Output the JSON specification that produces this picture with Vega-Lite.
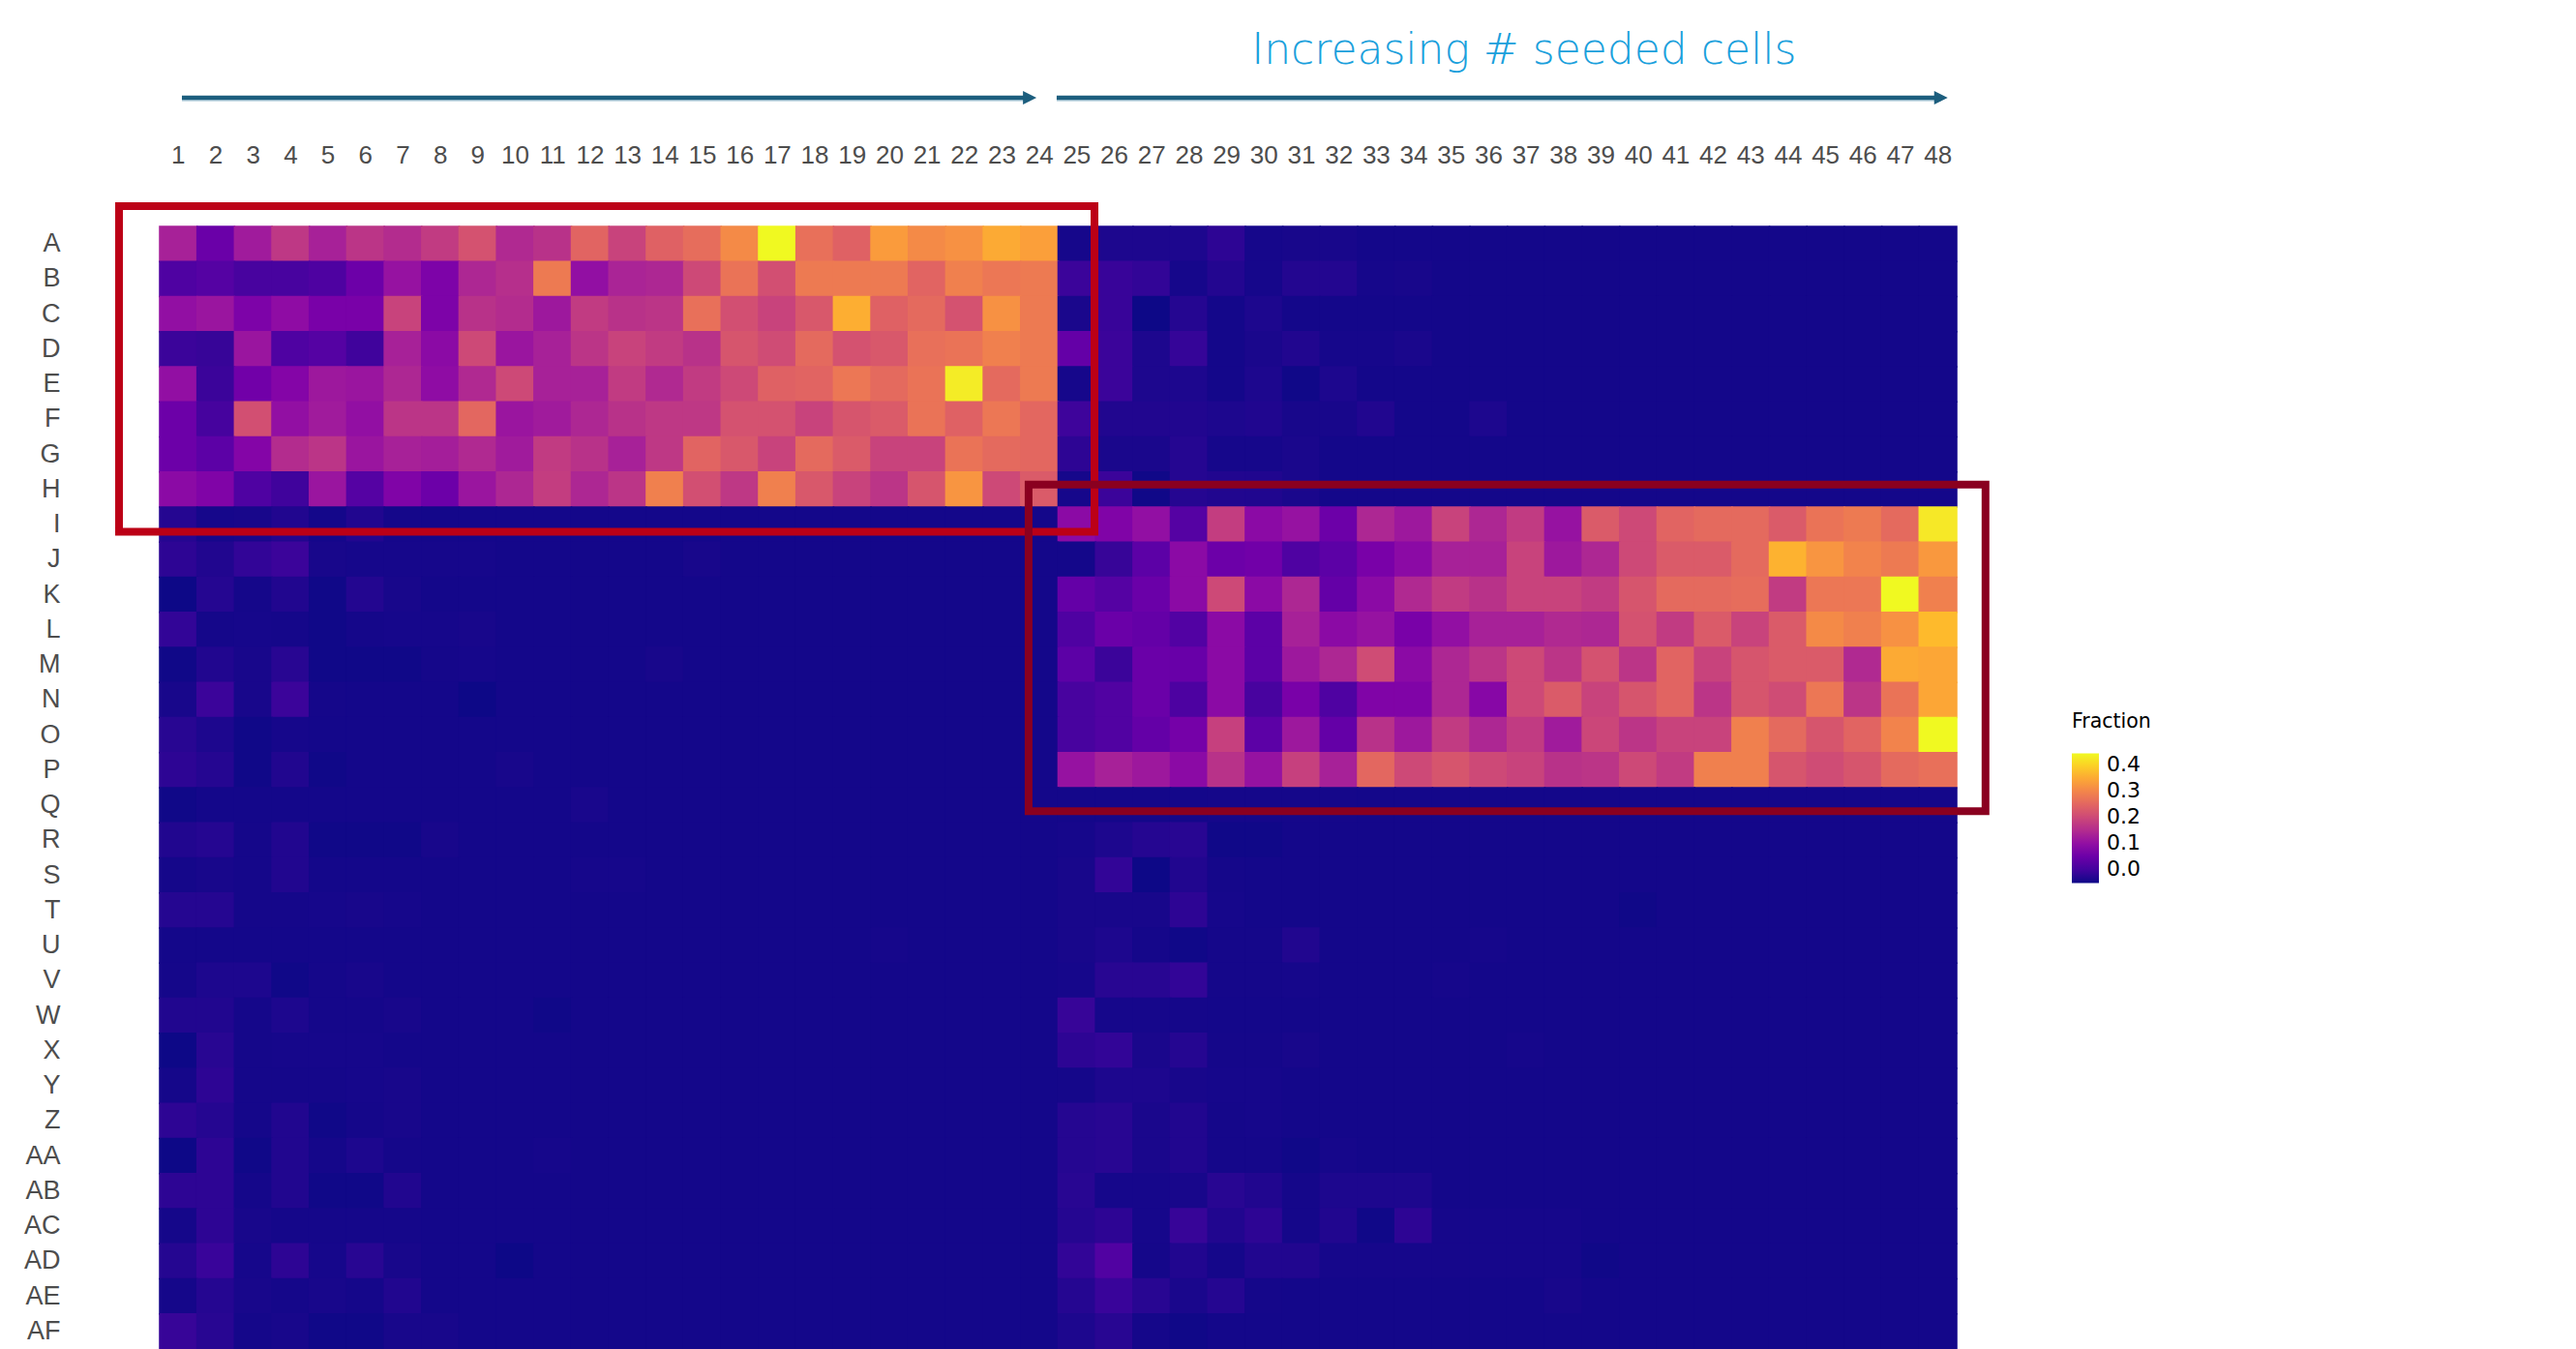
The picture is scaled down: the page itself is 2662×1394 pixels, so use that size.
{
"$schema":"https://vega.github.io/schema/vega-lite/v6.json",
"width":1857,"height":1160,
"autosize":{"type":"none"},
"padding":{"left":165,"top":234,"right":640,"bottom":0},
"background":"white",
"config":{"view":{"stroke":null}},
"resolve":{"scale":{"x":"independent","y":"independent"}},
"layer":[
{"data":{"values":[
{"r":"A","c":1,"v":0.13},{"r":"A","c":2,"v":0.047},{"r":"A","c":3,"v":0.12},{"r":"A","c":4,"v":0.17},{"r":"A","c":5,"v":0.13},{"r":"A","c":6,"v":0.165},{"r":"A","c":7,"v":0.15},{"r":"A","c":8,"v":0.175},{"r":"A","c":9,"v":0.215},{"r":"A","c":10,"v":0.145},{"r":"A","c":11,"v":0.16},{"r":"A","c":12,"v":0.245},{"r":"A","c":13,"v":0.19},{"r":"A","c":14,"v":0.24},{"r":"A","c":15,"v":0.26},{"r":"A","c":16,"v":0.305},{"r":"A","c":17,"v":0.444},{"r":"A","c":18,"v":0.265},{"r":"A","c":19,"v":0.24},{"r":"A","c":20,"v":0.33},{"r":"A","c":21,"v":0.305},{"r":"A","c":22,"v":0.315},{"r":"A","c":23,"v":0.35},{"r":"A","c":24,"v":0.335},{"r":"A","c":25,"v":-0.045},{"r":"A","c":26,"v":-0.04},{"r":"A","c":27,"v":-0.04},{"r":"A","c":28,"v":-0.04},{"r":"A","c":29,"v":-0.025},{"r":"A","c":30,"v":-0.045},{"r":"A","c":31,"v":-0.044},{"r":"A","c":32,"v":-0.044},{"r":"A","c":33,"v":-0.047},{"r":"A","c":34,"v":-0.047},{"r":"A","c":35,"v":-0.047},{"r":"A","c":36,"v":-0.047},{"r":"A","c":37,"v":-0.047},{"r":"A","c":38,"v":-0.047},{"r":"A","c":39,"v":-0.047},{"r":"A","c":40,"v":-0.047},{"r":"A","c":41,"v":-0.047},{"r":"A","c":42,"v":-0.047},{"r":"A","c":43,"v":-0.047},{"r":"A","c":44,"v":-0.047},{"r":"A","c":45,"v":-0.047},{"r":"A","c":46,"v":-0.047},{"r":"A","c":47,"v":-0.047},{"r":"A","c":48,"v":-0.047},
{"r":"B","c":1,"v":0.013},{"r":"B","c":2,"v":0.02},{"r":"B","c":3,"v":0.005},{"r":"B","c":4,"v":0.005},{"r":"B","c":5,"v":0.012},{"r":"B","c":6,"v":0.05},{"r":"B","c":7,"v":0.105},{"r":"B","c":8,"v":0.07},{"r":"B","c":9,"v":0.14},{"r":"B","c":10,"v":0.155},{"r":"B","c":11,"v":0.28},{"r":"B","c":12,"v":0.1},{"r":"B","c":13,"v":0.135},{"r":"B","c":14,"v":0.14},{"r":"B","c":15,"v":0.2},{"r":"B","c":16,"v":0.27},{"r":"B","c":17,"v":0.21},{"r":"B","c":18,"v":0.28},{"r":"B","c":19,"v":0.28},{"r":"B","c":20,"v":0.28},{"r":"B","c":21,"v":0.245},{"r":"B","c":22,"v":0.29},{"r":"B","c":23,"v":0.275},{"r":"B","c":24,"v":0.28},{"r":"B","c":25,"v":-0.01},{"r":"B","c":26,"v":-0.013},{"r":"B","c":27,"v":-0.02},{"r":"B","c":28,"v":-0.045},{"r":"B","c":29,"v":-0.035},{"r":"B","c":30,"v":-0.045},{"r":"B","c":31,"v":-0.035},{"r":"B","c":32,"v":-0.035},{"r":"B","c":33,"v":-0.045},{"r":"B","c":34,"v":-0.044},{"r":"B","c":35,"v":-0.047},{"r":"B","c":36,"v":-0.047},{"r":"B","c":37,"v":-0.047},{"r":"B","c":38,"v":-0.047},{"r":"B","c":39,"v":-0.047},{"r":"B","c":40,"v":-0.047},{"r":"B","c":41,"v":-0.047},{"r":"B","c":42,"v":-0.047},{"r":"B","c":43,"v":-0.047},{"r":"B","c":44,"v":-0.047},{"r":"B","c":45,"v":-0.047},{"r":"B","c":46,"v":-0.047},{"r":"B","c":47,"v":-0.047},{"r":"B","c":48,"v":-0.047},
{"r":"C","c":1,"v":0.1},{"r":"C","c":2,"v":0.11},{"r":"C","c":3,"v":0.07},{"r":"C","c":4,"v":0.095},{"r":"C","c":5,"v":0.065},{"r":"C","c":6,"v":0.065},{"r":"C","c":7,"v":0.19},{"r":"C","c":8,"v":0.07},{"r":"C","c":9,"v":0.16},{"r":"C","c":10,"v":0.15},{"r":"C","c":11,"v":0.115},{"r":"C","c":12,"v":0.175},{"r":"C","c":13,"v":0.16},{"r":"C","c":14,"v":0.165},{"r":"C","c":15,"v":0.265},{"r":"C","c":16,"v":0.21},{"r":"C","c":17,"v":0.19},{"r":"C","c":18,"v":0.225},{"r":"C","c":19,"v":0.355},{"r":"C","c":20,"v":0.24},{"r":"C","c":21,"v":0.255},{"r":"C","c":22,"v":0.215},{"r":"C","c":23,"v":0.315},{"r":"C","c":24,"v":0.28},{"r":"C","c":25,"v":-0.042},{"r":"C","c":26,"v":-0.013},{"r":"C","c":27,"v":-0.052},{"r":"C","c":28,"v":-0.033},{"r":"C","c":29,"v":-0.047},{"r":"C","c":30,"v":-0.04},{"r":"C","c":31,"v":-0.047},{"r":"C","c":32,"v":-0.047},{"r":"C","c":33,"v":-0.047},{"r":"C","c":34,"v":-0.047},{"r":"C","c":35,"v":-0.047},{"r":"C","c":36,"v":-0.047},{"r":"C","c":37,"v":-0.047},{"r":"C","c":38,"v":-0.047},{"r":"C","c":39,"v":-0.047},{"r":"C","c":40,"v":-0.047},{"r":"C","c":41,"v":-0.047},{"r":"C","c":42,"v":-0.047},{"r":"C","c":43,"v":-0.047},{"r":"C","c":44,"v":-0.047},{"r":"C","c":45,"v":-0.047},{"r":"C","c":46,"v":-0.047},{"r":"C","c":47,"v":-0.047},{"r":"C","c":48,"v":-0.047},
{"r":"D","c":1,"v":-0.01},{"r":"D","c":2,"v":-0.015},{"r":"D","c":3,"v":0.11},{"r":"D","c":4,"v":0.013},{"r":"D","c":5,"v":0.02},{"r":"D","c":6,"v":-0.005},{"r":"D","c":7,"v":0.13},{"r":"D","c":8,"v":0.09},{"r":"D","c":9,"v":0.2},{"r":"D","c":10,"v":0.11},{"r":"D","c":11,"v":0.13},{"r":"D","c":12,"v":0.165},{"r":"D","c":13,"v":0.19},{"r":"D","c":14,"v":0.175},{"r":"D","c":15,"v":0.16},{"r":"D","c":16,"v":0.22},{"r":"D","c":17,"v":0.205},{"r":"D","c":18,"v":0.255},{"r":"D","c":19,"v":0.215},{"r":"D","c":20,"v":0.225},{"r":"D","c":21,"v":0.265},{"r":"D","c":22,"v":0.27},{"r":"D","c":23,"v":0.29},{"r":"D","c":24,"v":0.28},{"r":"D","c":25,"v":0.04},{"r":"D","c":26,"v":-0.01},{"r":"D","c":27,"v":-0.04},{"r":"D","c":28,"v":-0.017},{"r":"D","c":29,"v":-0.047},{"r":"D","c":30,"v":-0.042},{"r":"D","c":31,"v":-0.037},{"r":"D","c":32,"v":-0.045},{"r":"D","c":33,"v":-0.045},{"r":"D","c":34,"v":-0.042},{"r":"D","c":35,"v":-0.047},{"r":"D","c":36,"v":-0.047},{"r":"D","c":37,"v":-0.047},{"r":"D","c":38,"v":-0.047},{"r":"D","c":39,"v":-0.047},{"r":"D","c":40,"v":-0.047},{"r":"D","c":41,"v":-0.047},{"r":"D","c":42,"v":-0.047},{"r":"D","c":43,"v":-0.047},{"r":"D","c":44,"v":-0.047},{"r":"D","c":45,"v":-0.047},{"r":"D","c":46,"v":-0.047},{"r":"D","c":47,"v":-0.047},{"r":"D","c":48,"v":-0.047},
{"r":"E","c":1,"v":0.1},{"r":"E","c":2,"v":-0.01},{"r":"E","c":3,"v":0.055},{"r":"E","c":4,"v":0.08},{"r":"E","c":5,"v":0.115},{"r":"E","c":6,"v":0.11},{"r":"E","c":7,"v":0.14},{"r":"E","c":8,"v":0.095},{"r":"E","c":9,"v":0.145},{"r":"E","c":10,"v":0.2},{"r":"E","c":11,"v":0.13},{"r":"E","c":12,"v":0.13},{"r":"E","c":13,"v":0.175},{"r":"E","c":14,"v":0.145},{"r":"E","c":15,"v":0.175},{"r":"E","c":16,"v":0.2},{"r":"E","c":17,"v":0.24},{"r":"E","c":18,"v":0.245},{"r":"E","c":19,"v":0.275},{"r":"E","c":20,"v":0.255},{"r":"E","c":21,"v":0.27},{"r":"E","c":22,"v":0.43},{"r":"E","c":23,"v":0.255},{"r":"E","c":24,"v":0.28},{"r":"E","c":25,"v":-0.045},{"r":"E","c":26,"v":-0.01},{"r":"E","c":27,"v":-0.04},{"r":"E","c":28,"v":-0.04},{"r":"E","c":29,"v":-0.047},{"r":"E","c":30,"v":-0.04},{"r":"E","c":31,"v":-0.05},{"r":"E","c":32,"v":-0.04},{"r":"E","c":33,"v":-0.047},{"r":"E","c":34,"v":-0.047},{"r":"E","c":35,"v":-0.047},{"r":"E","c":36,"v":-0.047},{"r":"E","c":37,"v":-0.047},{"r":"E","c":38,"v":-0.047},{"r":"E","c":39,"v":-0.047},{"r":"E","c":40,"v":-0.047},{"r":"E","c":41,"v":-0.047},{"r":"E","c":42,"v":-0.047},{"r":"E","c":43,"v":-0.047},{"r":"E","c":44,"v":-0.047},{"r":"E","c":45,"v":-0.047},{"r":"E","c":46,"v":-0.047},{"r":"E","c":47,"v":-0.047},{"r":"E","c":48,"v":-0.047},
{"r":"F","c":1,"v":0.05},{"r":"F","c":2,"v":0.002},{"r":"F","c":3,"v":0.21},{"r":"F","c":4,"v":0.1},{"r":"F","c":5,"v":0.12},{"r":"F","c":6,"v":0.1},{"r":"F","c":7,"v":0.165},{"r":"F","c":8,"v":0.165},{"r":"F","c":9,"v":0.25},{"r":"F","c":10,"v":0.11},{"r":"F","c":11,"v":0.12},{"r":"F","c":12,"v":0.14},{"r":"F","c":13,"v":0.16},{"r":"F","c":14,"v":0.17},{"r":"F","c":15,"v":0.17},{"r":"F","c":16,"v":0.215},{"r":"F","c":17,"v":0.215},{"r":"F","c":18,"v":0.19},{"r":"F","c":19,"v":0.22},{"r":"F","c":20,"v":0.23},{"r":"F","c":21,"v":0.27},{"r":"F","c":22,"v":0.24},{"r":"F","c":23,"v":0.275},{"r":"F","c":24,"v":0.25},{"r":"F","c":25,"v":-0.007},{"r":"F","c":26,"v":-0.037},{"r":"F","c":27,"v":-0.037},{"r":"F","c":28,"v":-0.037},{"r":"F","c":29,"v":-0.04},{"r":"F","c":30,"v":-0.038},{"r":"F","c":31,"v":-0.044},{"r":"F","c":32,"v":-0.044},{"r":"F","c":33,"v":-0.037},{"r":"F","c":34,"v":-0.047},{"r":"F","c":35,"v":-0.047},{"r":"F","c":36,"v":-0.04},{"r":"F","c":37,"v":-0.047},{"r":"F","c":38,"v":-0.047},{"r":"F","c":39,"v":-0.047},{"r":"F","c":40,"v":-0.047},{"r":"F","c":41,"v":-0.047},{"r":"F","c":42,"v":-0.047},{"r":"F","c":43,"v":-0.047},{"r":"F","c":44,"v":-0.047},{"r":"F","c":45,"v":-0.047},{"r":"F","c":46,"v":-0.047},{"r":"F","c":47,"v":-0.047},{"r":"F","c":48,"v":-0.047},
{"r":"G","c":1,"v":0.05},{"r":"G","c":2,"v":0.03},{"r":"G","c":3,"v":0.08},{"r":"G","c":4,"v":0.15},{"r":"G","c":5,"v":0.165},{"r":"G","c":6,"v":0.11},{"r":"G","c":7,"v":0.13},{"r":"G","c":8,"v":0.125},{"r":"G","c":9,"v":0.145},{"r":"G","c":10,"v":0.12},{"r":"G","c":11,"v":0.175},{"r":"G","c":12,"v":0.16},{"r":"G","c":13,"v":0.13},{"r":"G","c":14,"v":0.17},{"r":"G","c":15,"v":0.245},{"r":"G","c":16,"v":0.225},{"r":"G","c":17,"v":0.19},{"r":"G","c":18,"v":0.255},{"r":"G","c":19,"v":0.23},{"r":"G","c":20,"v":0.19},{"r":"G","c":21,"v":0.19},{"r":"G","c":22,"v":0.27},{"r":"G","c":23,"v":0.255},{"r":"G","c":24,"v":0.25},{"r":"G","c":25,"v":-0.025},{"r":"G","c":26,"v":-0.042},{"r":"G","c":27,"v":-0.042},{"r":"G","c":28,"v":-0.033},{"r":"G","c":29,"v":-0.045},{"r":"G","c":30,"v":-0.045},{"r":"G","c":31,"v":-0.042},{"r":"G","c":32,"v":-0.047},{"r":"G","c":33,"v":-0.047},{"r":"G","c":34,"v":-0.047},{"r":"G","c":35,"v":-0.047},{"r":"G","c":36,"v":-0.047},{"r":"G","c":37,"v":-0.047},{"r":"G","c":38,"v":-0.047},{"r":"G","c":39,"v":-0.047},{"r":"G","c":40,"v":-0.047},{"r":"G","c":41,"v":-0.047},{"r":"G","c":42,"v":-0.047},{"r":"G","c":43,"v":-0.047},{"r":"G","c":44,"v":-0.047},{"r":"G","c":45,"v":-0.047},{"r":"G","c":46,"v":-0.047},{"r":"G","c":47,"v":-0.047},{"r":"G","c":48,"v":-0.047},
{"r":"H","c":1,"v":0.09},{"r":"H","c":2,"v":0.075},{"r":"H","c":3,"v":0.013},{"r":"H","c":4,"v":-0.005},{"r":"H","c":5,"v":0.11},{"r":"H","c":6,"v":0.02},{"r":"H","c":7,"v":0.075},{"r":"H","c":8,"v":0.05},{"r":"H","c":9,"v":0.11},{"r":"H","c":10,"v":0.14},{"r":"H","c":11,"v":0.18},{"r":"H","c":12,"v":0.14},{"r":"H","c":13,"v":0.165},{"r":"H","c":14,"v":0.29},{"r":"H","c":15,"v":0.21},{"r":"H","c":16,"v":0.17},{"r":"H","c":17,"v":0.29},{"r":"H","c":18,"v":0.225},{"r":"H","c":19,"v":0.19},{"r":"H","c":20,"v":0.165},{"r":"H","c":21,"v":0.22},{"r":"H","c":22,"v":0.32},{"r":"H","c":23,"v":0.2},{"r":"H","c":24,"v":0.23},{"r":"H","c":25,"v":-0.045},{"r":"H","c":26,"v":-0.01},{"r":"H","c":27,"v":-0.05},{"r":"H","c":28,"v":-0.033},{"r":"H","c":29,"v":-0.037},{"r":"H","c":30,"v":-0.038},{"r":"H","c":31,"v":-0.042},{"r":"H","c":32,"v":-0.047},{"r":"H","c":33,"v":-0.047},{"r":"H","c":34,"v":-0.047},{"r":"H","c":35,"v":-0.047},{"r":"H","c":36,"v":-0.047},{"r":"H","c":37,"v":-0.047},{"r":"H","c":38,"v":-0.047},{"r":"H","c":39,"v":-0.047},{"r":"H","c":40,"v":-0.047},{"r":"H","c":41,"v":-0.047},{"r":"H","c":42,"v":-0.047},{"r":"H","c":43,"v":-0.047},{"r":"H","c":44,"v":-0.047},{"r":"H","c":45,"v":-0.047},{"r":"H","c":46,"v":-0.047},{"r":"H","c":47,"v":-0.047},{"r":"H","c":48,"v":-0.047},
{"r":"I","c":1,"v":-0.033},{"r":"I","c":2,"v":-0.045},{"r":"I","c":3,"v":-0.044},{"r":"I","c":4,"v":-0.037},{"r":"I","c":5,"v":-0.047},{"r":"I","c":6,"v":-0.037},{"r":"I","c":7,"v":-0.046},{"r":"I","c":8,"v":-0.047},{"r":"I","c":9,"v":-0.047},{"r":"I","c":10,"v":-0.047},{"r":"I","c":11,"v":-0.047},{"r":"I","c":12,"v":-0.047},{"r":"I","c":13,"v":-0.047},{"r":"I","c":14,"v":-0.047},{"r":"I","c":15,"v":-0.047},{"r":"I","c":16,"v":-0.047},{"r":"I","c":17,"v":-0.047},{"r":"I","c":18,"v":-0.047},{"r":"I","c":19,"v":-0.047},{"r":"I","c":20,"v":-0.047},{"r":"I","c":21,"v":-0.047},{"r":"I","c":22,"v":-0.047},{"r":"I","c":23,"v":-0.047},{"r":"I","c":24,"v":-0.047},{"r":"I","c":25,"v":0.09},{"r":"I","c":26,"v":0.075},{"r":"I","c":27,"v":0.1},{"r":"I","c":28,"v":0.02},{"r":"I","c":29,"v":0.18},{"r":"I","c":30,"v":0.09},{"r":"I","c":31,"v":0.105},{"r":"I","c":32,"v":0.05},{"r":"I","c":33,"v":0.14},{"r":"I","c":34,"v":0.115},{"r":"I","c":35,"v":0.19},{"r":"I","c":36,"v":0.14},{"r":"I","c":37,"v":0.175},{"r":"I","c":38,"v":0.105},{"r":"I","c":39,"v":0.23},{"r":"I","c":40,"v":0.2},{"r":"I","c":41,"v":0.245},{"r":"I","c":42,"v":0.255},{"r":"I","c":43,"v":0.255},{"r":"I","c":44,"v":0.23},{"r":"I","c":45,"v":0.27},{"r":"I","c":46,"v":0.28},{"r":"I","c":47,"v":0.255},{"r":"I","c":48,"v":0.425},
{"r":"J","c":1,"v":-0.025},{"r":"J","c":2,"v":-0.037},{"r":"J","c":3,"v":-0.02},{"r":"J","c":4,"v":-0.01},{"r":"J","c":5,"v":-0.044},{"r":"J","c":6,"v":-0.045},{"r":"J","c":7,"v":-0.045},{"r":"J","c":8,"v":-0.045},{"r":"J","c":9,"v":-0.045},{"r":"J","c":10,"v":-0.047},{"r":"J","c":11,"v":-0.047},{"r":"J","c":12,"v":-0.047},{"r":"J","c":13,"v":-0.047},{"r":"J","c":14,"v":-0.047},{"r":"J","c":15,"v":-0.044},{"r":"J","c":16,"v":-0.047},{"r":"J","c":17,"v":-0.047},{"r":"J","c":18,"v":-0.047},{"r":"J","c":19,"v":-0.047},{"r":"J","c":20,"v":-0.047},{"r":"J","c":21,"v":-0.047},{"r":"J","c":22,"v":-0.047},{"r":"J","c":23,"v":-0.047},{"r":"J","c":24,"v":-0.047},{"r":"J","c":25,"v":-0.047},{"r":"J","c":26,"v":-0.015},{"r":"J","c":27,"v":0.03},{"r":"J","c":28,"v":0.09},{"r":"J","c":29,"v":0.05},{"r":"J","c":30,"v":0.055},{"r":"J","c":31,"v":0.013},{"r":"J","c":32,"v":0.03},{"r":"J","c":33,"v":0.065},{"r":"J","c":34,"v":0.09},{"r":"J","c":35,"v":0.13},{"r":"J","c":36,"v":0.13},{"r":"J","c":37,"v":0.19},{"r":"J","c":38,"v":0.115},{"r":"J","c":39,"v":0.14},{"r":"J","c":40,"v":0.2},{"r":"J","c":41,"v":0.23},{"r":"J","c":42,"v":0.23},{"r":"J","c":43,"v":0.255},{"r":"J","c":44,"v":0.36},{"r":"J","c":45,"v":0.32},{"r":"J","c":46,"v":0.295},{"r":"J","c":47,"v":0.28},{"r":"J","c":48,"v":0.325},
{"r":"K","c":1,"v":-0.052},{"r":"K","c":2,"v":-0.033},{"r":"K","c":3,"v":-0.046},{"r":"K","c":4,"v":-0.037},{"r":"K","c":5,"v":-0.05},{"r":"K","c":6,"v":-0.035},{"r":"K","c":7,"v":-0.044},{"r":"K","c":8,"v":-0.047},{"r":"K","c":9,"v":-0.047},{"r":"K","c":10,"v":-0.047},{"r":"K","c":11,"v":-0.047},{"r":"K","c":12,"v":-0.047},{"r":"K","c":13,"v":-0.047},{"r":"K","c":14,"v":-0.047},{"r":"K","c":15,"v":-0.047},{"r":"K","c":16,"v":-0.047},{"r":"K","c":17,"v":-0.047},{"r":"K","c":18,"v":-0.047},{"r":"K","c":19,"v":-0.047},{"r":"K","c":20,"v":-0.047},{"r":"K","c":21,"v":-0.047},{"r":"K","c":22,"v":-0.047},{"r":"K","c":23,"v":-0.047},{"r":"K","c":24,"v":-0.047},{"r":"K","c":25,"v":0.04},{"r":"K","c":26,"v":0.02},{"r":"K","c":27,"v":0.047},{"r":"K","c":28,"v":0.09},{"r":"K","c":29,"v":0.2},{"r":"K","c":30,"v":0.09},{"r":"K","c":31,"v":0.14},{"r":"K","c":32,"v":0.04},{"r":"K","c":33,"v":0.09},{"r":"K","c":34,"v":0.145},{"r":"K","c":35,"v":0.175},{"r":"K","c":36,"v":0.16},{"r":"K","c":37,"v":0.19},{"r":"K","c":38,"v":0.19},{"r":"K","c":39,"v":0.175},{"r":"K","c":40,"v":0.22},{"r":"K","c":41,"v":0.255},{"r":"K","c":42,"v":0.255},{"r":"K","c":43,"v":0.26},{"r":"K","c":44,"v":0.175},{"r":"K","c":45,"v":0.275},{"r":"K","c":46,"v":0.275},{"r":"K","c":47,"v":0.444},{"r":"K","c":48,"v":0.29},
{"r":"L","c":1,"v":-0.02},{"r":"L","c":2,"v":-0.046},{"r":"L","c":3,"v":-0.045},{"r":"L","c":4,"v":-0.046},{"r":"L","c":5,"v":-0.05},{"r":"L","c":6,"v":-0.046},{"r":"L","c":7,"v":-0.045},{"r":"L","c":8,"v":-0.045},{"r":"L","c":9,"v":-0.044},{"r":"L","c":10,"v":-0.047},{"r":"L","c":11,"v":-0.047},{"r":"L","c":12,"v":-0.047},{"r":"L","c":13,"v":-0.047},{"r":"L","c":14,"v":-0.047},{"r":"L","c":15,"v":-0.047},{"r":"L","c":16,"v":-0.047},{"r":"L","c":17,"v":-0.047},{"r":"L","c":18,"v":-0.047},{"r":"L","c":19,"v":-0.047},{"r":"L","c":20,"v":-0.047},{"r":"L","c":21,"v":-0.047},{"r":"L","c":22,"v":-0.047},{"r":"L","c":23,"v":-0.047},{"r":"L","c":24,"v":-0.047},{"r":"L","c":25,"v":0.013},{"r":"L","c":26,"v":0.047},{"r":"L","c":27,"v":0.04},{"r":"L","c":28,"v":0.017},{"r":"L","c":29,"v":0.09},{"r":"L","c":30,"v":0.03},{"r":"L","c":31,"v":0.13},{"r":"L","c":32,"v":0.09},{"r":"L","c":33,"v":0.105},{"r":"L","c":34,"v":0.065},{"r":"L","c":35,"v":0.1},{"r":"L","c":36,"v":0.13},{"r":"L","c":37,"v":0.13},{"r":"L","c":38,"v":0.145},{"r":"L","c":39,"v":0.14},{"r":"L","c":40,"v":0.215},{"r":"L","c":41,"v":0.175},{"r":"L","c":42,"v":0.23},{"r":"L","c":43,"v":0.19},{"r":"L","c":44,"v":0.23},{"r":"L","c":45,"v":0.305},{"r":"L","c":46,"v":0.29},{"r":"L","c":47,"v":0.315},{"r":"L","c":48,"v":0.37},
{"r":"M","c":1,"v":-0.05},{"r":"M","c":2,"v":-0.037},{"r":"M","c":3,"v":-0.044},{"r":"M","c":4,"v":-0.03},{"r":"M","c":5,"v":-0.05},{"r":"M","c":6,"v":-0.05},{"r":"M","c":7,"v":-0.05},{"r":"M","c":8,"v":-0.046},{"r":"M","c":9,"v":-0.045},{"r":"M","c":10,"v":-0.047},{"r":"M","c":11,"v":-0.047},{"r":"M","c":12,"v":-0.047},{"r":"M","c":13,"v":-0.047},{"r":"M","c":14,"v":-0.044},{"r":"M","c":15,"v":-0.047},{"r":"M","c":16,"v":-0.047},{"r":"M","c":17,"v":-0.047},{"r":"M","c":18,"v":-0.047},{"r":"M","c":19,"v":-0.047},{"r":"M","c":20,"v":-0.047},{"r":"M","c":21,"v":-0.047},{"r":"M","c":22,"v":-0.047},{"r":"M","c":23,"v":-0.047},{"r":"M","c":24,"v":-0.047},{"r":"M","c":25,"v":0.03},{"r":"M","c":26,"v":-0.01},{"r":"M","c":27,"v":0.047},{"r":"M","c":28,"v":0.045},{"r":"M","c":29,"v":0.09},{"r":"M","c":30,"v":0.03},{"r":"M","c":31,"v":0.115},{"r":"M","c":32,"v":0.14},{"r":"M","c":33,"v":0.205},{"r":"M","c":34,"v":0.09},{"r":"M","c":35,"v":0.14},{"r":"M","c":36,"v":0.165},{"r":"M","c":37,"v":0.2},{"r":"M","c":38,"v":0.165},{"r":"M","c":39,"v":0.215},{"r":"M","c":40,"v":0.165},{"r":"M","c":41,"v":0.245},{"r":"M","c":42,"v":0.19},{"r":"M","c":43,"v":0.22},{"r":"M","c":44,"v":0.23},{"r":"M","c":45,"v":0.23},{"r":"M","c":46,"v":0.145},{"r":"M","c":47,"v":0.35},{"r":"M","c":48,"v":0.345},
{"r":"N","c":1,"v":-0.044},{"r":"N","c":2,"v":-0.01},{"r":"N","c":3,"v":-0.044},{"r":"N","c":4,"v":-0.01},{"r":"N","c":5,"v":-0.046},{"r":"N","c":6,"v":-0.047},{"r":"N","c":7,"v":-0.047},{"r":"N","c":8,"v":-0.047},{"r":"N","c":9,"v":-0.052},{"r":"N","c":10,"v":-0.047},{"r":"N","c":11,"v":-0.047},{"r":"N","c":12,"v":-0.047},{"r":"N","c":13,"v":-0.047},{"r":"N","c":14,"v":-0.047},{"r":"N","c":15,"v":-0.047},{"r":"N","c":16,"v":-0.047},{"r":"N","c":17,"v":-0.047},{"r":"N","c":18,"v":-0.047},{"r":"N","c":19,"v":-0.047},{"r":"N","c":20,"v":-0.047},{"r":"N","c":21,"v":-0.047},{"r":"N","c":22,"v":-0.047},{"r":"N","c":23,"v":-0.047},{"r":"N","c":24,"v":-0.047},{"r":"N","c":25,"v":0.005},{"r":"N","c":26,"v":0.015},{"r":"N","c":27,"v":0.047},{"r":"N","c":28,"v":0.01},{"r":"N","c":29,"v":0.09},{"r":"N","c":30,"v":0.005},{"r":"N","c":31,"v":0.065},{"r":"N","c":32,"v":0.013},{"r":"N","c":33,"v":0.075},{"r":"N","c":34,"v":0.075},{"r":"N","c":35,"v":0.14},{"r":"N","c":36,"v":0.085},{"r":"N","c":37,"v":0.2},{"r":"N","c":38,"v":0.23},{"r":"N","c":39,"v":0.19},{"r":"N","c":40,"v":0.22},{"r":"N","c":41,"v":0.245},{"r":"N","c":42,"v":0.165},{"r":"N","c":43,"v":0.22},{"r":"N","c":44,"v":0.205},{"r":"N","c":45,"v":0.275},{"r":"N","c":46,"v":0.165},{"r":"N","c":47,"v":0.27},{"r":"N","c":48,"v":0.345},
{"r":"O","c":1,"v":-0.03},{"r":"O","c":2,"v":-0.04},{"r":"O","c":3,"v":-0.05},{"r":"O","c":4,"v":-0.045},{"r":"O","c":5,"v":-0.047},{"r":"O","c":6,"v":-0.047},{"r":"O","c":7,"v":-0.047},{"r":"O","c":8,"v":-0.047},{"r":"O","c":9,"v":-0.047},{"r":"O","c":10,"v":-0.047},{"r":"O","c":11,"v":-0.047},{"r":"O","c":12,"v":-0.047},{"r":"O","c":13,"v":-0.047},{"r":"O","c":14,"v":-0.047},{"r":"O","c":15,"v":-0.047},{"r":"O","c":16,"v":-0.047},{"r":"O","c":17,"v":-0.047},{"r":"O","c":18,"v":-0.047},{"r":"O","c":19,"v":-0.047},{"r":"O","c":20,"v":-0.047},{"r":"O","c":21,"v":-0.047},{"r":"O","c":22,"v":-0.047},{"r":"O","c":23,"v":-0.047},{"r":"O","c":24,"v":-0.047},{"r":"O","c":25,"v":0.005},{"r":"O","c":26,"v":0.015},{"r":"O","c":27,"v":0.04},{"r":"O","c":28,"v":0.06},{"r":"O","c":29,"v":0.185},{"r":"O","c":30,"v":0.03},{"r":"O","c":31,"v":0.115},{"r":"O","c":32,"v":0.04},{"r":"O","c":33,"v":0.16},{"r":"O","c":34,"v":0.115},{"r":"O","c":35,"v":0.175},{"r":"O","c":36,"v":0.14},{"r":"O","c":37,"v":0.175},{"r":"O","c":38,"v":0.12},{"r":"O","c":39,"v":0.195},{"r":"O","c":40,"v":0.165},{"r":"O","c":41,"v":0.19},{"r":"O","c":42,"v":0.19},{"r":"O","c":43,"v":0.29},{"r":"O","c":44,"v":0.255},{"r":"O","c":45,"v":0.22},{"r":"O","c":46,"v":0.245},{"r":"O","c":47,"v":0.295},{"r":"O","c":48,"v":0.444},
{"r":"P","c":1,"v":-0.025},{"r":"P","c":2,"v":-0.033},{"r":"P","c":3,"v":-0.05},{"r":"P","c":4,"v":-0.037},{"r":"P","c":5,"v":-0.05},{"r":"P","c":6,"v":-0.047},{"r":"P","c":7,"v":-0.047},{"r":"P","c":8,"v":-0.047},{"r":"P","c":9,"v":-0.047},{"r":"P","c":10,"v":-0.044},{"r":"P","c":11,"v":-0.047},{"r":"P","c":12,"v":-0.047},{"r":"P","c":13,"v":-0.047},{"r":"P","c":14,"v":-0.047},{"r":"P","c":15,"v":-0.047},{"r":"P","c":16,"v":-0.047},{"r":"P","c":17,"v":-0.047},{"r":"P","c":18,"v":-0.047},{"r":"P","c":19,"v":-0.047},{"r":"P","c":20,"v":-0.047},{"r":"P","c":21,"v":-0.047},{"r":"P","c":22,"v":-0.047},{"r":"P","c":23,"v":-0.047},{"r":"P","c":24,"v":-0.047},{"r":"P","c":25,"v":0.105},{"r":"P","c":26,"v":0.13},{"r":"P","c":27,"v":0.115},{"r":"P","c":28,"v":0.09},{"r":"P","c":29,"v":0.16},{"r":"P","c":30,"v":0.105},{"r":"P","c":31,"v":0.185},{"r":"P","c":32,"v":0.13},{"r":"P","c":33,"v":0.25},{"r":"P","c":34,"v":0.2},{"r":"P","c":35,"v":0.22},{"r":"P","c":36,"v":0.2},{"r":"P","c":37,"v":0.19},{"r":"P","c":38,"v":0.16},{"r":"P","c":39,"v":0.165},{"r":"P","c":40,"v":0.2},{"r":"P","c":41,"v":0.175},{"r":"P","c":42,"v":0.29},{"r":"P","c":43,"v":0.29},{"r":"P","c":44,"v":0.22},{"r":"P","c":45,"v":0.205},{"r":"P","c":46,"v":0.22},{"r":"P","c":47,"v":0.255},{"r":"P","c":48,"v":0.265},
{"r":"Q","c":1,"v":-0.05},{"r":"Q","c":2,"v":-0.047},{"r":"Q","c":3,"v":-0.047},{"r":"Q","c":4,"v":-0.047},{"r":"Q","c":5,"v":-0.047},{"r":"Q","c":6,"v":-0.047},{"r":"Q","c":7,"v":-0.047},{"r":"Q","c":8,"v":-0.047},{"r":"Q","c":9,"v":-0.047},{"r":"Q","c":10,"v":-0.047},{"r":"Q","c":11,"v":-0.047},{"r":"Q","c":12,"v":-0.043},{"r":"Q","c":13,"v":-0.047},{"r":"Q","c":14,"v":-0.047},{"r":"Q","c":15,"v":-0.047},{"r":"Q","c":16,"v":-0.047},{"r":"Q","c":17,"v":-0.047},{"r":"Q","c":18,"v":-0.047},{"r":"Q","c":19,"v":-0.047},{"r":"Q","c":20,"v":-0.047},{"r":"Q","c":21,"v":-0.047},{"r":"Q","c":22,"v":-0.047},{"r":"Q","c":23,"v":-0.047},{"r":"Q","c":24,"v":-0.047},{"r":"Q","c":25,"v":-0.047},{"r":"Q","c":26,"v":-0.047},{"r":"Q","c":27,"v":-0.047},{"r":"Q","c":28,"v":-0.047},{"r":"Q","c":29,"v":-0.046},{"r":"Q","c":30,"v":-0.046},{"r":"Q","c":31,"v":-0.046},{"r":"Q","c":32,"v":-0.046},{"r":"Q","c":33,"v":-0.047},{"r":"Q","c":34,"v":-0.047},{"r":"Q","c":35,"v":-0.047},{"r":"Q","c":36,"v":-0.047},{"r":"Q","c":37,"v":-0.047},{"r":"Q","c":38,"v":-0.047},{"r":"Q","c":39,"v":-0.047},{"r":"Q","c":40,"v":-0.047},{"r":"Q","c":41,"v":-0.047},{"r":"Q","c":42,"v":-0.047},{"r":"Q","c":43,"v":-0.047},{"r":"Q","c":44,"v":-0.047},{"r":"Q","c":45,"v":-0.047},{"r":"Q","c":46,"v":-0.047},{"r":"Q","c":47,"v":-0.047},{"r":"Q","c":48,"v":-0.047},
{"r":"R","c":1,"v":-0.037},{"r":"R","c":2,"v":-0.033},{"r":"R","c":3,"v":-0.046},{"r":"R","c":4,"v":-0.037},{"r":"R","c":5,"v":-0.05},{"r":"R","c":6,"v":-0.05},{"r":"R","c":7,"v":-0.05},{"r":"R","c":8,"v":-0.044},{"r":"R","c":9,"v":-0.047},{"r":"R","c":10,"v":-0.047},{"r":"R","c":11,"v":-0.047},{"r":"R","c":12,"v":-0.047},{"r":"R","c":13,"v":-0.047},{"r":"R","c":14,"v":-0.047},{"r":"R","c":15,"v":-0.047},{"r":"R","c":16,"v":-0.047},{"r":"R","c":17,"v":-0.047},{"r":"R","c":18,"v":-0.047},{"r":"R","c":19,"v":-0.047},{"r":"R","c":20,"v":-0.047},{"r":"R","c":21,"v":-0.047},{"r":"R","c":22,"v":-0.047},{"r":"R","c":23,"v":-0.047},{"r":"R","c":24,"v":-0.047},{"r":"R","c":25,"v":-0.045},{"r":"R","c":26,"v":-0.04},{"r":"R","c":27,"v":-0.033},{"r":"R","c":28,"v":-0.03},{"r":"R","c":29,"v":-0.05},{"r":"R","c":30,"v":-0.05},{"r":"R","c":31,"v":-0.047},{"r":"R","c":32,"v":-0.047},{"r":"R","c":33,"v":-0.047},{"r":"R","c":34,"v":-0.047},{"r":"R","c":35,"v":-0.047},{"r":"R","c":36,"v":-0.047},{"r":"R","c":37,"v":-0.047},{"r":"R","c":38,"v":-0.047},{"r":"R","c":39,"v":-0.047},{"r":"R","c":40,"v":-0.047},{"r":"R","c":41,"v":-0.047},{"r":"R","c":42,"v":-0.047},{"r":"R","c":43,"v":-0.047},{"r":"R","c":44,"v":-0.047},{"r":"R","c":45,"v":-0.047},{"r":"R","c":46,"v":-0.047},{"r":"R","c":47,"v":-0.047},{"r":"R","c":48,"v":-0.047},
{"r":"S","c":1,"v":-0.046},{"r":"S","c":2,"v":-0.044},{"r":"S","c":3,"v":-0.046},{"r":"S","c":4,"v":-0.037},{"r":"S","c":5,"v":-0.047},{"r":"S","c":6,"v":-0.047},{"r":"S","c":7,"v":-0.047},{"r":"S","c":8,"v":-0.047},{"r":"S","c":9,"v":-0.047},{"r":"S","c":10,"v":-0.047},{"r":"S","c":11,"v":-0.047},{"r":"S","c":12,"v":-0.045},{"r":"S","c":13,"v":-0.045},{"r":"S","c":14,"v":-0.047},{"r":"S","c":15,"v":-0.047},{"r":"S","c":16,"v":-0.047},{"r":"S","c":17,"v":-0.047},{"r":"S","c":18,"v":-0.047},{"r":"S","c":19,"v":-0.047},{"r":"S","c":20,"v":-0.047},{"r":"S","c":21,"v":-0.047},{"r":"S","c":22,"v":-0.047},{"r":"S","c":23,"v":-0.047},{"r":"S","c":24,"v":-0.047},{"r":"S","c":25,"v":-0.044},{"r":"S","c":26,"v":-0.02},{"r":"S","c":27,"v":-0.052},{"r":"S","c":28,"v":-0.037},{"r":"S","c":29,"v":-0.046},{"r":"S","c":30,"v":-0.047},{"r":"S","c":31,"v":-0.047},{"r":"S","c":32,"v":-0.047},{"r":"S","c":33,"v":-0.047},{"r":"S","c":34,"v":-0.047},{"r":"S","c":35,"v":-0.047},{"r":"S","c":36,"v":-0.047},{"r":"S","c":37,"v":-0.047},{"r":"S","c":38,"v":-0.047},{"r":"S","c":39,"v":-0.047},{"r":"S","c":40,"v":-0.047},{"r":"S","c":41,"v":-0.047},{"r":"S","c":42,"v":-0.047},{"r":"S","c":43,"v":-0.047},{"r":"S","c":44,"v":-0.047},{"r":"S","c":45,"v":-0.047},{"r":"S","c":46,"v":-0.047},{"r":"S","c":47,"v":-0.047},{"r":"S","c":48,"v":-0.047},
{"r":"T","c":1,"v":-0.033},{"r":"T","c":2,"v":-0.033},{"r":"T","c":3,"v":-0.046},{"r":"T","c":4,"v":-0.046},{"r":"T","c":5,"v":-0.045},{"r":"T","c":6,"v":-0.044},{"r":"T","c":7,"v":-0.045},{"r":"T","c":8,"v":-0.047},{"r":"T","c":9,"v":-0.047},{"r":"T","c":10,"v":-0.047},{"r":"T","c":11,"v":-0.047},{"r":"T","c":12,"v":-0.047},{"r":"T","c":13,"v":-0.047},{"r":"T","c":14,"v":-0.047},{"r":"T","c":15,"v":-0.047},{"r":"T","c":16,"v":-0.047},{"r":"T","c":17,"v":-0.047},{"r":"T","c":18,"v":-0.047},{"r":"T","c":19,"v":-0.047},{"r":"T","c":20,"v":-0.047},{"r":"T","c":21,"v":-0.047},{"r":"T","c":22,"v":-0.047},{"r":"T","c":23,"v":-0.047},{"r":"T","c":24,"v":-0.047},{"r":"T","c":25,"v":-0.044},{"r":"T","c":26,"v":-0.044},{"r":"T","c":27,"v":-0.044},{"r":"T","c":28,"v":-0.025},{"r":"T","c":29,"v":-0.045},{"r":"T","c":30,"v":-0.047},{"r":"T","c":31,"v":-0.047},{"r":"T","c":32,"v":-0.047},{"r":"T","c":33,"v":-0.047},{"r":"T","c":34,"v":-0.047},{"r":"T","c":35,"v":-0.047},{"r":"T","c":36,"v":-0.047},{"r":"T","c":37,"v":-0.047},{"r":"T","c":38,"v":-0.047},{"r":"T","c":39,"v":-0.047},{"r":"T","c":40,"v":-0.05},{"r":"T","c":41,"v":-0.047},{"r":"T","c":42,"v":-0.047},{"r":"T","c":43,"v":-0.047},{"r":"T","c":44,"v":-0.047},{"r":"T","c":45,"v":-0.047},{"r":"T","c":46,"v":-0.047},{"r":"T","c":47,"v":-0.047},{"r":"T","c":48,"v":-0.047},
{"r":"U","c":1,"v":-0.047},{"r":"U","c":2,"v":-0.047},{"r":"U","c":3,"v":-0.047},{"r":"U","c":4,"v":-0.047},{"r":"U","c":5,"v":-0.047},{"r":"U","c":6,"v":-0.047},{"r":"U","c":7,"v":-0.047},{"r":"U","c":8,"v":-0.047},{"r":"U","c":9,"v":-0.047},{"r":"U","c":10,"v":-0.047},{"r":"U","c":11,"v":-0.047},{"r":"U","c":12,"v":-0.047},{"r":"U","c":13,"v":-0.047},{"r":"U","c":14,"v":-0.047},{"r":"U","c":15,"v":-0.047},{"r":"U","c":16,"v":-0.047},{"r":"U","c":17,"v":-0.047},{"r":"U","c":18,"v":-0.047},{"r":"U","c":19,"v":-0.047},{"r":"U","c":20,"v":-0.045},{"r":"U","c":21,"v":-0.047},{"r":"U","c":22,"v":-0.047},{"r":"U","c":23,"v":-0.047},{"r":"U","c":24,"v":-0.047},{"r":"U","c":25,"v":-0.044},{"r":"U","c":26,"v":-0.04},{"r":"U","c":27,"v":-0.046},{"r":"U","c":28,"v":-0.05},{"r":"U","c":29,"v":-0.046},{"r":"U","c":30,"v":-0.046},{"r":"U","c":31,"v":-0.037},{"r":"U","c":32,"v":-0.047},{"r":"U","c":33,"v":-0.047},{"r":"U","c":34,"v":-0.047},{"r":"U","c":35,"v":-0.047},{"r":"U","c":36,"v":-0.045},{"r":"U","c":37,"v":-0.047},{"r":"U","c":38,"v":-0.047},{"r":"U","c":39,"v":-0.047},{"r":"U","c":40,"v":-0.047},{"r":"U","c":41,"v":-0.047},{"r":"U","c":42,"v":-0.047},{"r":"U","c":43,"v":-0.047},{"r":"U","c":44,"v":-0.047},{"r":"U","c":45,"v":-0.047},{"r":"U","c":46,"v":-0.047},{"r":"U","c":47,"v":-0.047},{"r":"U","c":48,"v":-0.047},
{"r":"V","c":1,"v":-0.046},{"r":"V","c":2,"v":-0.04},{"r":"V","c":3,"v":-0.04},{"r":"V","c":4,"v":-0.05},{"r":"V","c":5,"v":-0.046},{"r":"V","c":6,"v":-0.044},{"r":"V","c":7,"v":-0.047},{"r":"V","c":8,"v":-0.047},{"r":"V","c":9,"v":-0.047},{"r":"V","c":10,"v":-0.047},{"r":"V","c":11,"v":-0.047},{"r":"V","c":12,"v":-0.047},{"r":"V","c":13,"v":-0.047},{"r":"V","c":14,"v":-0.047},{"r":"V","c":15,"v":-0.047},{"r":"V","c":16,"v":-0.047},{"r":"V","c":17,"v":-0.047},{"r":"V","c":18,"v":-0.047},{"r":"V","c":19,"v":-0.047},{"r":"V","c":20,"v":-0.047},{"r":"V","c":21,"v":-0.047},{"r":"V","c":22,"v":-0.047},{"r":"V","c":23,"v":-0.047},{"r":"V","c":24,"v":-0.047},{"r":"V","c":25,"v":-0.045},{"r":"V","c":26,"v":-0.03},{"r":"V","c":27,"v":-0.03},{"r":"V","c":28,"v":-0.02},{"r":"V","c":29,"v":-0.046},{"r":"V","c":30,"v":-0.046},{"r":"V","c":31,"v":-0.045},{"r":"V","c":32,"v":-0.047},{"r":"V","c":33,"v":-0.047},{"r":"V","c":34,"v":-0.047},{"r":"V","c":35,"v":-0.045},{"r":"V","c":36,"v":-0.047},{"r":"V","c":37,"v":-0.047},{"r":"V","c":38,"v":-0.047},{"r":"V","c":39,"v":-0.047},{"r":"V","c":40,"v":-0.047},{"r":"V","c":41,"v":-0.047},{"r":"V","c":42,"v":-0.047},{"r":"V","c":43,"v":-0.047},{"r":"V","c":44,"v":-0.047},{"r":"V","c":45,"v":-0.047},{"r":"V","c":46,"v":-0.047},{"r":"V","c":47,"v":-0.047},{"r":"V","c":48,"v":-0.047},
{"r":"W","c":1,"v":-0.037},{"r":"W","c":2,"v":-0.037},{"r":"W","c":3,"v":-0.046},{"r":"W","c":4,"v":-0.04},{"r":"W","c":5,"v":-0.046},{"r":"W","c":6,"v":-0.046},{"r":"W","c":7,"v":-0.044},{"r":"W","c":8,"v":-0.047},{"r":"W","c":9,"v":-0.047},{"r":"W","c":10,"v":-0.047},{"r":"W","c":11,"v":-0.05},{"r":"W","c":12,"v":-0.047},{"r":"W","c":13,"v":-0.047},{"r":"W","c":14,"v":-0.047},{"r":"W","c":15,"v":-0.047},{"r":"W","c":16,"v":-0.047},{"r":"W","c":17,"v":-0.047},{"r":"W","c":18,"v":-0.047},{"r":"W","c":19,"v":-0.047},{"r":"W","c":20,"v":-0.047},{"r":"W","c":21,"v":-0.047},{"r":"W","c":22,"v":-0.047},{"r":"W","c":23,"v":-0.047},{"r":"W","c":24,"v":-0.047},{"r":"W","c":25,"v":-0.015},{"r":"W","c":26,"v":-0.045},{"r":"W","c":27,"v":-0.045},{"r":"W","c":28,"v":-0.046},{"r":"W","c":29,"v":-0.047},{"r":"W","c":30,"v":-0.047},{"r":"W","c":31,"v":-0.047},{"r":"W","c":32,"v":-0.047},{"r":"W","c":33,"v":-0.047},{"r":"W","c":34,"v":-0.047},{"r":"W","c":35,"v":-0.047},{"r":"W","c":36,"v":-0.047},{"r":"W","c":37,"v":-0.047},{"r":"W","c":38,"v":-0.047},{"r":"W","c":39,"v":-0.047},{"r":"W","c":40,"v":-0.047},{"r":"W","c":41,"v":-0.047},{"r":"W","c":42,"v":-0.047},{"r":"W","c":43,"v":-0.047},{"r":"W","c":44,"v":-0.047},{"r":"W","c":45,"v":-0.047},{"r":"W","c":46,"v":-0.047},{"r":"W","c":47,"v":-0.047},{"r":"W","c":48,"v":-0.047},
{"r":"X","c":1,"v":-0.052},{"r":"X","c":2,"v":-0.03},{"r":"X","c":3,"v":-0.046},{"r":"X","c":4,"v":-0.045},{"r":"X","c":5,"v":-0.045},{"r":"X","c":6,"v":-0.045},{"r":"X","c":7,"v":-0.047},{"r":"X","c":8,"v":-0.047},{"r":"X","c":9,"v":-0.047},{"r":"X","c":10,"v":-0.047},{"r":"X","c":11,"v":-0.047},{"r":"X","c":12,"v":-0.047},{"r":"X","c":13,"v":-0.047},{"r":"X","c":14,"v":-0.047},{"r":"X","c":15,"v":-0.047},{"r":"X","c":16,"v":-0.047},{"r":"X","c":17,"v":-0.047},{"r":"X","c":18,"v":-0.047},{"r":"X","c":19,"v":-0.047},{"r":"X","c":20,"v":-0.047},{"r":"X","c":21,"v":-0.047},{"r":"X","c":22,"v":-0.047},{"r":"X","c":23,"v":-0.047},{"r":"X","c":24,"v":-0.047},{"r":"X","c":25,"v":-0.025},{"r":"X","c":26,"v":-0.02},{"r":"X","c":27,"v":-0.042},{"r":"X","c":28,"v":-0.033},{"r":"X","c":29,"v":-0.046},{"r":"X","c":30,"v":-0.046},{"r":"X","c":31,"v":-0.044},{"r":"X","c":32,"v":-0.047},{"r":"X","c":33,"v":-0.047},{"r":"X","c":34,"v":-0.047},{"r":"X","c":35,"v":-0.047},{"r":"X","c":36,"v":-0.047},{"r":"X","c":37,"v":-0.045},{"r":"X","c":38,"v":-0.047},{"r":"X","c":39,"v":-0.047},{"r":"X","c":40,"v":-0.047},{"r":"X","c":41,"v":-0.047},{"r":"X","c":42,"v":-0.047},{"r":"X","c":43,"v":-0.047},{"r":"X","c":44,"v":-0.047},{"r":"X","c":45,"v":-0.047},{"r":"X","c":46,"v":-0.047},{"r":"X","c":47,"v":-0.047},{"r":"X","c":48,"v":-0.047},
{"r":"Y","c":1,"v":-0.046},{"r":"Y","c":2,"v":-0.025},{"r":"Y","c":3,"v":-0.046},{"r":"Y","c":4,"v":-0.046},{"r":"Y","c":5,"v":-0.046},{"r":"Y","c":6,"v":-0.045},{"r":"Y","c":7,"v":-0.044},{"r":"Y","c":8,"v":-0.047},{"r":"Y","c":9,"v":-0.047},{"r":"Y","c":10,"v":-0.047},{"r":"Y","c":11,"v":-0.047},{"r":"Y","c":12,"v":-0.047},{"r":"Y","c":13,"v":-0.047},{"r":"Y","c":14,"v":-0.047},{"r":"Y","c":15,"v":-0.047},{"r":"Y","c":16,"v":-0.047},{"r":"Y","c":17,"v":-0.047},{"r":"Y","c":18,"v":-0.047},{"r":"Y","c":19,"v":-0.047},{"r":"Y","c":20,"v":-0.047},{"r":"Y","c":21,"v":-0.047},{"r":"Y","c":22,"v":-0.047},{"r":"Y","c":23,"v":-0.047},{"r":"Y","c":24,"v":-0.047},{"r":"Y","c":25,"v":-0.046},{"r":"Y","c":26,"v":-0.04},{"r":"Y","c":27,"v":-0.04},{"r":"Y","c":28,"v":-0.044},{"r":"Y","c":29,"v":-0.045},{"r":"Y","c":30,"v":-0.045},{"r":"Y","c":31,"v":-0.047},{"r":"Y","c":32,"v":-0.047},{"r":"Y","c":33,"v":-0.047},{"r":"Y","c":34,"v":-0.047},{"r":"Y","c":35,"v":-0.047},{"r":"Y","c":36,"v":-0.047},{"r":"Y","c":37,"v":-0.047},{"r":"Y","c":38,"v":-0.047},{"r":"Y","c":39,"v":-0.047},{"r":"Y","c":40,"v":-0.047},{"r":"Y","c":41,"v":-0.047},{"r":"Y","c":42,"v":-0.047},{"r":"Y","c":43,"v":-0.047},{"r":"Y","c":44,"v":-0.047},{"r":"Y","c":45,"v":-0.047},{"r":"Y","c":46,"v":-0.047},{"r":"Y","c":47,"v":-0.047},{"r":"Y","c":48,"v":-0.047},
{"r":"Z","c":1,"v":-0.025},{"r":"Z","c":2,"v":-0.033},{"r":"Z","c":3,"v":-0.046},{"r":"Z","c":4,"v":-0.037},{"r":"Z","c":5,"v":-0.05},{"r":"Z","c":6,"v":-0.046},{"r":"Z","c":7,"v":-0.044},{"r":"Z","c":8,"v":-0.047},{"r":"Z","c":9,"v":-0.047},{"r":"Z","c":10,"v":-0.047},{"r":"Z","c":11,"v":-0.047},{"r":"Z","c":12,"v":-0.047},{"r":"Z","c":13,"v":-0.047},{"r":"Z","c":14,"v":-0.047},{"r":"Z","c":15,"v":-0.047},{"r":"Z","c":16,"v":-0.047},{"r":"Z","c":17,"v":-0.047},{"r":"Z","c":18,"v":-0.047},{"r":"Z","c":19,"v":-0.047},{"r":"Z","c":20,"v":-0.047},{"r":"Z","c":21,"v":-0.047},{"r":"Z","c":22,"v":-0.047},{"r":"Z","c":23,"v":-0.047},{"r":"Z","c":24,"v":-0.047},{"r":"Z","c":25,"v":-0.033},{"r":"Z","c":26,"v":-0.03},{"r":"Z","c":27,"v":-0.042},{"r":"Z","c":28,"v":-0.037},{"r":"Z","c":29,"v":-0.046},{"r":"Z","c":30,"v":-0.045},{"r":"Z","c":31,"v":-0.047},{"r":"Z","c":32,"v":-0.047},{"r":"Z","c":33,"v":-0.047},{"r":"Z","c":34,"v":-0.047},{"r":"Z","c":35,"v":-0.047},{"r":"Z","c":36,"v":-0.047},{"r":"Z","c":37,"v":-0.047},{"r":"Z","c":38,"v":-0.047},{"r":"Z","c":39,"v":-0.047},{"r":"Z","c":40,"v":-0.047},{"r":"Z","c":41,"v":-0.047},{"r":"Z","c":42,"v":-0.047},{"r":"Z","c":43,"v":-0.047},{"r":"Z","c":44,"v":-0.047},{"r":"Z","c":45,"v":-0.047},{"r":"Z","c":46,"v":-0.047},{"r":"Z","c":47,"v":-0.047},{"r":"Z","c":48,"v":-0.047},
{"r":"AA","c":1,"v":-0.052},{"r":"AA","c":2,"v":-0.025},{"r":"AA","c":3,"v":-0.05},{"r":"AA","c":4,"v":-0.037},{"r":"AA","c":5,"v":-0.046},{"r":"AA","c":6,"v":-0.04},{"r":"AA","c":7,"v":-0.046},{"r":"AA","c":8,"v":-0.047},{"r":"AA","c":9,"v":-0.047},{"r":"AA","c":10,"v":-0.047},{"r":"AA","c":11,"v":-0.045},{"r":"AA","c":12,"v":-0.047},{"r":"AA","c":13,"v":-0.047},{"r":"AA","c":14,"v":-0.047},{"r":"AA","c":15,"v":-0.047},{"r":"AA","c":16,"v":-0.047},{"r":"AA","c":17,"v":-0.047},{"r":"AA","c":18,"v":-0.047},{"r":"AA","c":19,"v":-0.047},{"r":"AA","c":20,"v":-0.047},{"r":"AA","c":21,"v":-0.047},{"r":"AA","c":22,"v":-0.047},{"r":"AA","c":23,"v":-0.047},{"r":"AA","c":24,"v":-0.047},{"r":"AA","c":25,"v":-0.033},{"r":"AA","c":26,"v":-0.03},{"r":"AA","c":27,"v":-0.042},{"r":"AA","c":28,"v":-0.037},{"r":"AA","c":29,"v":-0.046},{"r":"AA","c":30,"v":-0.046},{"r":"AA","c":31,"v":-0.05},{"r":"AA","c":32,"v":-0.045},{"r":"AA","c":33,"v":-0.047},{"r":"AA","c":34,"v":-0.047},{"r":"AA","c":35,"v":-0.047},{"r":"AA","c":36,"v":-0.047},{"r":"AA","c":37,"v":-0.047},{"r":"AA","c":38,"v":-0.047},{"r":"AA","c":39,"v":-0.047},{"r":"AA","c":40,"v":-0.047},{"r":"AA","c":41,"v":-0.047},{"r":"AA","c":42,"v":-0.047},{"r":"AA","c":43,"v":-0.047},{"r":"AA","c":44,"v":-0.047},{"r":"AA","c":45,"v":-0.047},{"r":"AA","c":46,"v":-0.047},{"r":"AA","c":47,"v":-0.047},{"r":"AA","c":48,"v":-0.047},
{"r":"AB","c":1,"v":-0.025},{"r":"AB","c":2,"v":-0.025},{"r":"AB","c":3,"v":-0.046},{"r":"AB","c":4,"v":-0.037},{"r":"AB","c":5,"v":-0.05},{"r":"AB","c":6,"v":-0.05},{"r":"AB","c":7,"v":-0.037},{"r":"AB","c":8,"v":-0.047},{"r":"AB","c":9,"v":-0.047},{"r":"AB","c":10,"v":-0.047},{"r":"AB","c":11,"v":-0.047},{"r":"AB","c":12,"v":-0.047},{"r":"AB","c":13,"v":-0.047},{"r":"AB","c":14,"v":-0.047},{"r":"AB","c":15,"v":-0.047},{"r":"AB","c":16,"v":-0.047},{"r":"AB","c":17,"v":-0.047},{"r":"AB","c":18,"v":-0.047},{"r":"AB","c":19,"v":-0.047},{"r":"AB","c":20,"v":-0.047},{"r":"AB","c":21,"v":-0.047},{"r":"AB","c":22,"v":-0.047},{"r":"AB","c":23,"v":-0.047},{"r":"AB","c":24,"v":-0.047},{"r":"AB","c":25,"v":-0.03},{"r":"AB","c":26,"v":-0.045},{"r":"AB","c":27,"v":-0.045},{"r":"AB","c":28,"v":-0.044},{"r":"AB","c":29,"v":-0.03},{"r":"AB","c":30,"v":-0.037},{"r":"AB","c":31,"v":-0.046},{"r":"AB","c":32,"v":-0.04},{"r":"AB","c":33,"v":-0.04},{"r":"AB","c":34,"v":-0.04},{"r":"AB","c":35,"v":-0.047},{"r":"AB","c":36,"v":-0.047},{"r":"AB","c":37,"v":-0.047},{"r":"AB","c":38,"v":-0.047},{"r":"AB","c":39,"v":-0.047},{"r":"AB","c":40,"v":-0.047},{"r":"AB","c":41,"v":-0.047},{"r":"AB","c":42,"v":-0.047},{"r":"AB","c":43,"v":-0.047},{"r":"AB","c":44,"v":-0.047},{"r":"AB","c":45,"v":-0.047},{"r":"AB","c":46,"v":-0.047},{"r":"AB","c":47,"v":-0.047},{"r":"AB","c":48,"v":-0.047},
{"r":"AC","c":1,"v":-0.046},{"r":"AC","c":2,"v":-0.025},{"r":"AC","c":3,"v":-0.044},{"r":"AC","c":4,"v":-0.046},{"r":"AC","c":5,"v":-0.046},{"r":"AC","c":6,"v":-0.046},{"r":"AC","c":7,"v":-0.046},{"r":"AC","c":8,"v":-0.047},{"r":"AC","c":9,"v":-0.047},{"r":"AC","c":10,"v":-0.047},{"r":"AC","c":11,"v":-0.047},{"r":"AC","c":12,"v":-0.047},{"r":"AC","c":13,"v":-0.047},{"r":"AC","c":14,"v":-0.047},{"r":"AC","c":15,"v":-0.047},{"r":"AC","c":16,"v":-0.047},{"r":"AC","c":17,"v":-0.047},{"r":"AC","c":18,"v":-0.047},{"r":"AC","c":19,"v":-0.047},{"r":"AC","c":20,"v":-0.047},{"r":"AC","c":21,"v":-0.047},{"r":"AC","c":22,"v":-0.047},{"r":"AC","c":23,"v":-0.047},{"r":"AC","c":24,"v":-0.047},{"r":"AC","c":25,"v":-0.033},{"r":"AC","c":26,"v":-0.025},{"r":"AC","c":27,"v":-0.045},{"r":"AC","c":28,"v":-0.015},{"r":"AC","c":29,"v":-0.037},{"r":"AC","c":30,"v":-0.025},{"r":"AC","c":31,"v":-0.046},{"r":"AC","c":32,"v":-0.037},{"r":"AC","c":33,"v":-0.05},{"r":"AC","c":34,"v":-0.025},{"r":"AC","c":35,"v":-0.045},{"r":"AC","c":36,"v":-0.045},{"r":"AC","c":37,"v":-0.045},{"r":"AC","c":38,"v":-0.045},{"r":"AC","c":39,"v":-0.047},{"r":"AC","c":40,"v":-0.047},{"r":"AC","c":41,"v":-0.047},{"r":"AC","c":42,"v":-0.047},{"r":"AC","c":43,"v":-0.047},{"r":"AC","c":44,"v":-0.047},{"r":"AC","c":45,"v":-0.047},{"r":"AC","c":46,"v":-0.047},{"r":"AC","c":47,"v":-0.047},{"r":"AC","c":48,"v":-0.047},
{"r":"AD","c":1,"v":-0.033},{"r":"AD","c":2,"v":-0.012},{"r":"AD","c":3,"v":-0.045},{"r":"AD","c":4,"v":-0.025},{"r":"AD","c":5,"v":-0.045},{"r":"AD","c":6,"v":-0.03},{"r":"AD","c":7,"v":-0.044},{"r":"AD","c":8,"v":-0.047},{"r":"AD","c":9,"v":-0.047},{"r":"AD","c":10,"v":-0.052},{"r":"AD","c":11,"v":-0.047},{"r":"AD","c":12,"v":-0.047},{"r":"AD","c":13,"v":-0.047},{"r":"AD","c":14,"v":-0.047},{"r":"AD","c":15,"v":-0.047},{"r":"AD","c":16,"v":-0.047},{"r":"AD","c":17,"v":-0.047},{"r":"AD","c":18,"v":-0.047},{"r":"AD","c":19,"v":-0.047},{"r":"AD","c":20,"v":-0.047},{"r":"AD","c":21,"v":-0.047},{"r":"AD","c":22,"v":-0.047},{"r":"AD","c":23,"v":-0.047},{"r":"AD","c":24,"v":-0.047},{"r":"AD","c":25,"v":-0.02},{"r":"AD","c":26,"v":0.015},{"r":"AD","c":27,"v":-0.046},{"r":"AD","c":28,"v":-0.037},{"r":"AD","c":29,"v":-0.046},{"r":"AD","c":30,"v":-0.037},{"r":"AD","c":31,"v":-0.037},{"r":"AD","c":32,"v":-0.045},{"r":"AD","c":33,"v":-0.045},{"r":"AD","c":34,"v":-0.045},{"r":"AD","c":35,"v":-0.045},{"r":"AD","c":36,"v":-0.045},{"r":"AD","c":37,"v":-0.045},{"r":"AD","c":38,"v":-0.045},{"r":"AD","c":39,"v":-0.05},{"r":"AD","c":40,"v":-0.047},{"r":"AD","c":41,"v":-0.047},{"r":"AD","c":42,"v":-0.047},{"r":"AD","c":43,"v":-0.047},{"r":"AD","c":44,"v":-0.047},{"r":"AD","c":45,"v":-0.047},{"r":"AD","c":46,"v":-0.047},{"r":"AD","c":47,"v":-0.047},{"r":"AD","c":48,"v":-0.047},
{"r":"AE","c":1,"v":-0.046},{"r":"AE","c":2,"v":-0.033},{"r":"AE","c":3,"v":-0.044},{"r":"AE","c":4,"v":-0.046},{"r":"AE","c":5,"v":-0.044},{"r":"AE","c":6,"v":-0.046},{"r":"AE","c":7,"v":-0.037},{"r":"AE","c":8,"v":-0.047},{"r":"AE","c":9,"v":-0.047},{"r":"AE","c":10,"v":-0.047},{"r":"AE","c":11,"v":-0.047},{"r":"AE","c":12,"v":-0.047},{"r":"AE","c":13,"v":-0.047},{"r":"AE","c":14,"v":-0.047},{"r":"AE","c":15,"v":-0.047},{"r":"AE","c":16,"v":-0.047},{"r":"AE","c":17,"v":-0.047},{"r":"AE","c":18,"v":-0.047},{"r":"AE","c":19,"v":-0.047},{"r":"AE","c":20,"v":-0.047},{"r":"AE","c":21,"v":-0.047},{"r":"AE","c":22,"v":-0.047},{"r":"AE","c":23,"v":-0.047},{"r":"AE","c":24,"v":-0.047},{"r":"AE","c":25,"v":-0.033},{"r":"AE","c":26,"v":-0.012},{"r":"AE","c":27,"v":-0.03},{"r":"AE","c":28,"v":-0.042},{"r":"AE","c":29,"v":-0.033},{"r":"AE","c":30,"v":-0.046},{"r":"AE","c":31,"v":-0.047},{"r":"AE","c":32,"v":-0.047},{"r":"AE","c":33,"v":-0.047},{"r":"AE","c":34,"v":-0.047},{"r":"AE","c":35,"v":-0.047},{"r":"AE","c":36,"v":-0.047},{"r":"AE","c":37,"v":-0.047},{"r":"AE","c":38,"v":-0.044},{"r":"AE","c":39,"v":-0.047},{"r":"AE","c":40,"v":-0.047},{"r":"AE","c":41,"v":-0.047},{"r":"AE","c":42,"v":-0.047},{"r":"AE","c":43,"v":-0.047},{"r":"AE","c":44,"v":-0.047},{"r":"AE","c":45,"v":-0.047},{"r":"AE","c":46,"v":-0.047},{"r":"AE","c":47,"v":-0.047},{"r":"AE","c":48,"v":-0.047},
{"r":"AF","c":1,"v":-0.015},{"r":"AF","c":2,"v":-0.03},{"r":"AF","c":3,"v":-0.046},{"r":"AF","c":4,"v":-0.044},{"r":"AF","c":5,"v":-0.05},{"r":"AF","c":6,"v":-0.05},{"r":"AF","c":7,"v":-0.044},{"r":"AF","c":8,"v":-0.044},{"r":"AF","c":9,"v":-0.047},{"r":"AF","c":10,"v":-0.047},{"r":"AF","c":11,"v":-0.047},{"r":"AF","c":12,"v":-0.047},{"r":"AF","c":13,"v":-0.047},{"r":"AF","c":14,"v":-0.047},{"r":"AF","c":15,"v":-0.047},{"r":"AF","c":16,"v":-0.047},{"r":"AF","c":17,"v":-0.047},{"r":"AF","c":18,"v":-0.047},{"r":"AF","c":19,"v":-0.047},{"r":"AF","c":20,"v":-0.047},{"r":"AF","c":21,"v":-0.047},{"r":"AF","c":22,"v":-0.047},{"r":"AF","c":23,"v":-0.047},{"r":"AF","c":24,"v":-0.047},{"r":"AF","c":25,"v":-0.04},{"r":"AF","c":26,"v":-0.03},{"r":"AF","c":27,"v":-0.046},{"r":"AF","c":28,"v":-0.05},{"r":"AF","c":29,"v":-0.047},{"r":"AF","c":30,"v":-0.047},{"r":"AF","c":31,"v":-0.047},{"r":"AF","c":32,"v":-0.047},{"r":"AF","c":33,"v":-0.047},{"r":"AF","c":34,"v":-0.047},{"r":"AF","c":35,"v":-0.047},{"r":"AF","c":36,"v":-0.047},{"r":"AF","c":37,"v":-0.047},{"r":"AF","c":38,"v":-0.047},{"r":"AF","c":39,"v":-0.047},{"r":"AF","c":40,"v":-0.047},{"r":"AF","c":41,"v":-0.047},{"r":"AF","c":42,"v":-0.047},{"r":"AF","c":43,"v":-0.047},{"r":"AF","c":44,"v":-0.047},{"r":"AF","c":45,"v":-0.047},{"r":"AF","c":46,"v":-0.047},{"r":"AF","c":47,"v":-0.047},{"r":"AF","c":48,"v":-0.047}
]},
"mark":{"type":"rect","width":{"band":1.04},"height":{"band":1.04}},
"encoding":{
"x":{"field":"c","type":"ordinal","scale":{"paddingInner":0,"paddingOuter":0},"axis":{"orient":"top","title":null,"labelAngle":0,"ticks":false,"tickSize":0,"domain":false,"labelPadding":61,"labelFontSize":26,"labelColor":"#4d4d4d","labelFont":"Liberation Sans","labelOverlap":false}},
"y":{"field":"r","type":"ordinal","sort":["A","B","C","D","E","F","G","H","I","J","K","L","M","N","O","P","Q","R","S","T","U","V","W","X","Y","Z","AA","AB","AC","AD","AE","AF"],"scale":{"paddingInner":0,"paddingOuter":0},"axis":{"title":null,"ticks":false,"tickSize":0,"domain":false,"labelPadding":103,"labelFontSize":27,"labelColor":"#4d4d4d","labelFont":"Liberation Sans","labelAlign":"right","labelOverlap":false}},
"color":{"field":"v","type":"quantitative","scale":{"scheme":"plasma","domain":[-0.052,0.444]},"legend":{"type":"gradient","orient":"none","legendX":1976,"legendY":502,"direction":"vertical","title":"Fraction","titleFontSize":20.5,"titleFont":"DejaVu Sans","titleFontWeight":"normal","titleColor":"black","titlePadding":22,"gradientLength":134,"gradientThickness":28,"gradientStrokeWidth":0,"labelFontSize":22,"labelFont":"DejaVu Sans","labelColor":"black","labelOffset":8,"values":[0,0.1,0.2,0.3,0.4],"format":".1f","labelOverlap":false,"padding":0}}
}},
{"layer":[
{"data":{"values":[{"x1":-0.585,"x2":25.47,"y1":-1.079,"y2":8.2}]},
"mark":{"type":"rect","fill":"transparent","stroke":"#bc0016","strokeWidth":8},
"encoding":{"x":{"field":"x1","type":"quantitative","scale":{"domain":[0.5,48.5],"nice":false,"zero":false},"axis":null},"x2":{"field":"x2"},"y":{"field":"y1","type":"quantitative","scale":{"domain":[-0.5,31.5],"reverse":true,"nice":false,"zero":false},"axis":null},"y2":{"field":"y2"}}},
{"data":{"values":[{"x1":23.71,"x2":49.27,"y1":6.86,"y2":16.17}]},
"mark":{"type":"rect","fill":"transparent","stroke":"#8a0020","strokeWidth":8},
"encoding":{"x":{"field":"x1","type":"quantitative","axis":null},"x2":{"field":"x2"},"y":{"field":"y1","type":"quantitative","axis":null},"y2":{"field":"y2"}}},
{"data":{"values":[{"x1":1.094,"x2":23.74,"y":-4.169},{"x1":24.46,"x2":48.08,"y":-4.169}]},
"mark":{"type":"rule","stroke":"#bcd5e1","strokeWidth":4.5,"yOffset":1.5},
"encoding":{"x":{"field":"x1","type":"quantitative","axis":null},"x2":{"field":"x2"},"y":{"field":"y","type":"quantitative","axis":null}}},
{"data":{"values":[{"x1":1.094,"x2":23.74,"y":-4.169},{"x1":24.46,"x2":48.08,"y":-4.169}]},
"mark":{"type":"rule","stroke":"#1c5e7e","strokeWidth":4.3},
"encoding":{"x":{"field":"x1","type":"quantitative","axis":null},"x2":{"field":"x2"},"y":{"field":"y","type":"quantitative","axis":null}}},
{"data":{"values":[{"x":23.74,"y":-4.169},{"x":48.08,"y":-4.169}]},
"mark":{"type":"point","shape":"M -1 -1 L 1 0 L -1 1 Z","size":196,"filled":true,"fill":"#1c5e7e","opacity":1,"strokeWidth":0},
"encoding":{"x":{"field":"x","type":"quantitative","axis":null},"y":{"field":"y","type":"quantitative","axis":null}}},
{"data":{"values":[{"x":36.94,"y":-5.134,"t":"Increasing # seeded cells"}]},
"mark":{"type":"text","font":"DejaVu Sans","fontWeight":200,"fontSize":44,"fill":"#1aa0dc","align":"center","baseline":"alphabetic"},
"encoding":{"x":{"field":"x","type":"quantitative","axis":null},"y":{"field":"y","type":"quantitative","axis":null},"text":{"field":"t"}}}
]}
]
}
